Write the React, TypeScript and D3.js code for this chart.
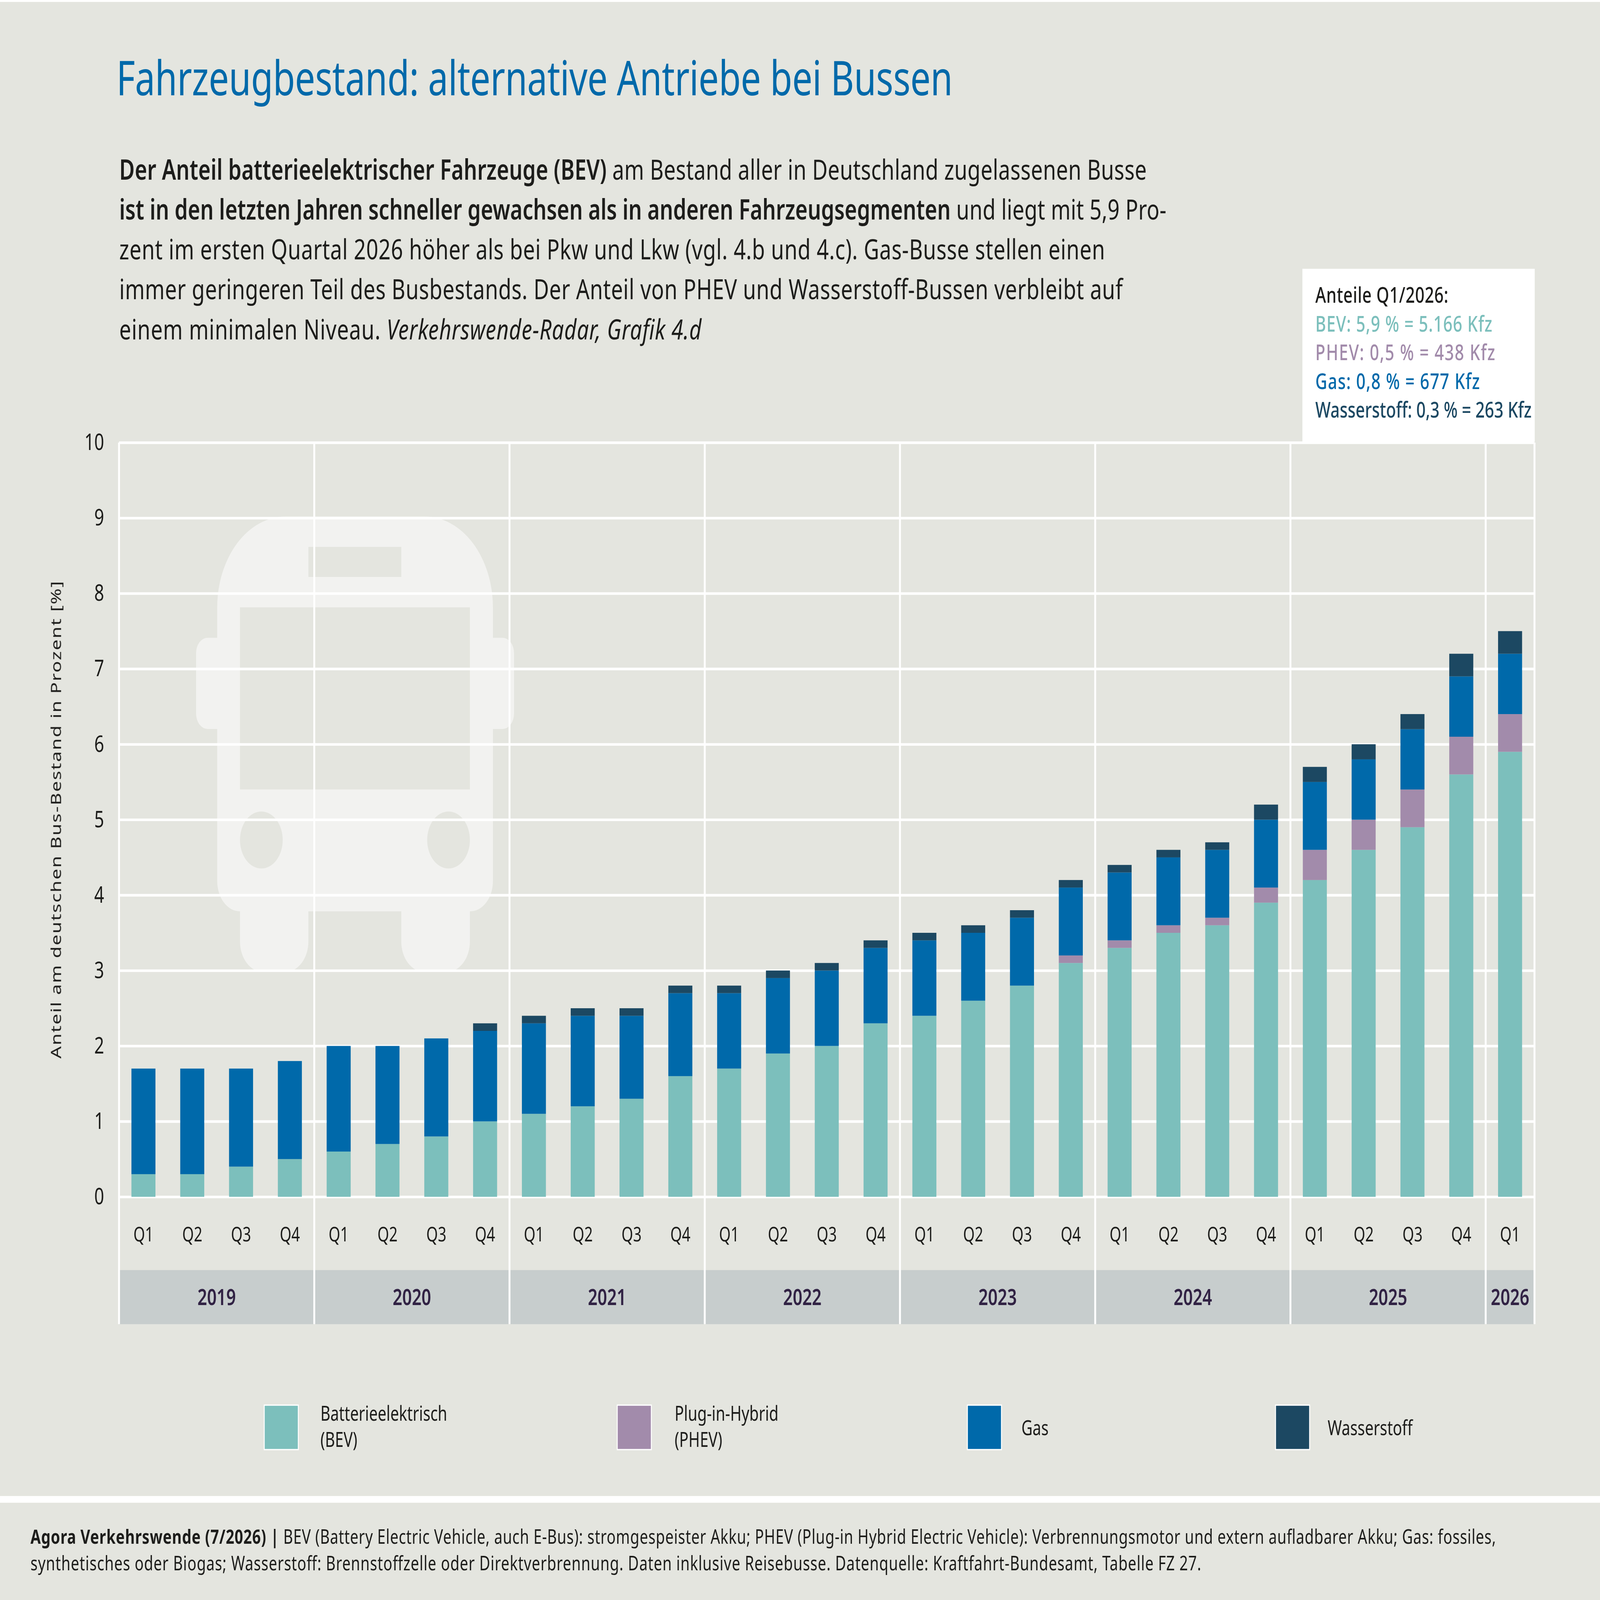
import { useEffect, useRef } from "react";
import * as d3 from "d3";

const years = ["2019", "2020", "2021", "2022", "2023", "2024", "2025", "2026"];
const quarters = [
  "2019 Q1", "2019 Q2", "2019 Q3", "2019 Q4",
  "2020 Q1", "2020 Q2", "2020 Q3", "2020 Q4",
  "2021 Q1", "2021 Q2", "2021 Q3", "2021 Q4",
  "2022 Q1", "2022 Q2", "2022 Q3", "2022 Q4",
  "2023 Q1", "2023 Q2", "2023 Q3", "2023 Q4",
  "2024 Q1", "2024 Q2", "2024 Q3", "2024 Q4",
  "2025 Q1", "2025 Q2", "2025 Q3", "2025 Q4",
  "2026 Q1",
];

const bev = [0.3, 0.3, 0.4, 0.5, 0.6, 0.7, 0.8, 1.0, 1.1, 1.2, 1.3, 1.6, 1.7, 1.9, 2.0, 2.3, 2.4, 2.6, 2.8, 3.1, 3.3, 3.5, 3.6, 3.9, 4.2, 4.6, 4.9, 5.6, 5.9];
const phev = [0, 0, 0, 0, 0, 0, 0, 0, 0, 0, 0, 0, 0, 0, 0, 0, 0, 0, 0, 0.1, 0.1, 0.1, 0.1, 0.2, 0.4, 0.4, 0.5, 0.5, 0.5];
const gas = [1.4, 1.4, 1.3, 1.3, 1.4, 1.3, 1.3, 1.2, 1.2, 1.2, 1.1, 1.1, 1.0, 1.0, 1.0, 1.0, 1.0, 0.9, 0.9, 0.9, 0.9, 0.9, 0.9, 0.9, 0.9, 0.8, 0.8, 0.8, 0.8];
const wasserstoff = [0, 0, 0, 0, 0, 0, 0, 0.1, 0.1, 0.1, 0.1, 0.1, 0.1, 0.1, 0.1, 0.1, 0.1, 0.1, 0.1, 0.1, 0.1, 0.1, 0.1, 0.2, 0.2, 0.2, 0.2, 0.3, 0.3];

const seriesKeys = ["bev", "phev", "gas", "wasserstoff"];
const seriesColors = ["#7CBFBC", "#A28BAB", "#0069AA", "#1C4862"];
const legendLabels = [["Batterieelektrisch", "(BEV)"], ["Plug-in-Hybrid", "(PHEV)"], ["Gas"], ["Wasserstoff"]];

const title = "Fahrzeugbestand: alternative Antriebe bei Bussen";
const yTitle = "Anteil am deutschen Bus-Bestand in Prozent [%]";
// each line: [text, style]
const introLines = [
  [["Der Anteil batterieelektrischer Fahrzeuge (BEV)", "b"], [" am Bestand aller in Deutschland zugelassenen Busse", ""]],
  [["ist in den letzten Jahren schneller gewachsen als in anderen Fahrzeugsegmenten", "b"], [" und liegt mit 5,9 Pro-", ""]],
  [["zent im ersten Quartal 2026 höher als bei Pkw und Lkw (vgl. 4.b und 4.c). Gas-Busse stellen einen", ""]],
  [["immer geringeren Teil des Busbestands. Der Anteil von PHEV und Wasserstoff-Bussen verbleibt auf", ""]],
  [["einem minimalen Niveau. ", ""], ["Verkehrswende-Radar, Grafik 4.d", "i"]],
];
const introEnds = [4778, 4860, 4604, 4678, 2923];
const boxLines = ["Anteile Q1/2026:", "BEV: 5,9 % = 5.166 Kfz", "PHEV: 0,5 % = 438 Kfz", "Gas: 0,8 % = 677 Kfz", "Wasserstoff: 0,3 % = 263 Kfz"];
const boxColors = ["#1D1D1B", "#7CBFBC", "#A28BAB", "#0069AA", "#1C4862"];
const boxEnds = [6035, 6218, 6230, 6166, 6382];
const footerLines = [
  [["Agora Verkehrswende (7/2026) | ", "b"], ["BEV (Battery Electric Vehicle, auch E-Bus): stromgespeister Akku; PHEV (Plug-in Hybrid Electric Vehicle): Verbrennungsmotor und extern aufladbarer Akku; Gas: fossiles,", ""]],
  [["synthetisches oder Biogas; Wasserstoff: Brennstoffzelle oder Direktverbrennung. Daten inklusive Reisebusse. Datenquelle: Kraftfahrt-Bundesamt, Tabelle FZ 27.", ""]],
];
const footerEnds = [6233, 5005];

const FONT = "'Noto Sans', sans-serif";

// faint bus behind the bars
function busPath() {
  const p = d3.path();
  const rr = (x0: number, y0: number, x1: number, y1: number, rt: number, rb: number) => {
    p.moveTo(x0 + rt, y0);
    p.lineTo(x1 - rt, y0);
    p.arcTo(x1, y0, x1, y0 + rt, rt);
    p.lineTo(x1, y1 - rb);
    p.arcTo(x1, y1, x1 - rb, y1, rb);
    p.lineTo(x0 + rb, y1);
    p.arcTo(x0, y1, x0, y1 - rb, rb);
    p.lineTo(x0, y0 + rt);
    p.arcTo(x0, y0, x0 + rt, y0, rt);
    p.closePath();
  };
  rr(905, 1614, 2054, 2848, 285, 95);
  return p.toString();
}
function holesPath() {
  const p = d3.path();
  p.rect(1285, 1709, 387, 94);
  p.rect(1000, 1898, 958, 569);
  p.moveTo(1178, 2625);
  p.arc(1089, 2625, 89, 0, Math.PI * 2);
  p.moveTo(1958, 2625);
  p.arc(1869, 2625, 89, 0, Math.PI * 2);
  return p.toString();
}

export default function App() {
  const ref = useRef<SVGSVGElement | null>(null);

  useEffect(() => {
    if (!ref.current) return;
    const svg = d3.select(ref.current);
    svg.selectAll("*").remove();

    const width = 6667;
    const height = 5000;
    const plot = { left: 496, right: 6394, top: 1383, bottom: 3740, bandTop: 3969, bandBottom: 4138 };

    svg.attr("viewBox", `0 0 ${width} ${height}`).attr("font-family", FONT);
    svg.append("rect").attr("width", width).attr("height", height).attr("fill", "#E4E5DF");
    svg.append("rect").attr("width", width).attr("height", 6).attr("fill", "#fff");

    // Scales
    const x = d3.scaleBand<string>().domain(quarters).range([plot.left, plot.right]).paddingInner(0.508).paddingOuter(0.254);
    const y = d3.scaleLinear().domain([0, 10]).range([plot.bottom, plot.top]);

    // Title and intro
    svg.append("text").attr("x", 485).attr("y", 298).attr("font-size", 150).attr("fill", "#0069AA")
      .attr("textLength", 3485).attr("lengthAdjust", "spacing").text(title);

    introLines.forEach((line, i) => {
      const t = svg.append("text").attr("x", 497).attr("y", 561 + i * 124.8).attr("font-size", 88).attr("fill", "#1D1D1B")
        .attr("textLength", introEnds[i] - 497).attr("lengthAdjust", "spacing");
      line.forEach(([s, style]) => {
        t.append("tspan")
          .attr("font-weight", style === "b" ? 600 : 400)
          .attr("font-style", style === "i" ? "italic" : "normal")
          .attr("letter-spacing", style === "b" ? -0.5 : 0)
          .text(s);
      });
    });

    // Bus icon
    const bus = svg.append("g").attr("fill", "#F2F2F0");
    bus.append("rect").attr("x", 817).attr("y", 1993).attr("width", 1325).attr("height", 285).attr("rx", 48);
    bus.append("rect").attr("x", 1000).attr("y", 2700).attr("width", 285).attr("height", 337).attr("rx", 95);
    bus.append("rect").attr("x", 1672).attr("y", 2700).attr("width", 286).attr("height", 337).attr("rx", 95);
    bus.append("path").attr("d", busPath());
    svg.append("path").attr("d", holesPath()).attr("fill", "#E4E5DF");

    // Year band under the axis
    svg.append("rect").attr("x", plot.left).attr("y", plot.bandTop).attr("width", plot.right - plot.left).attr("height", plot.bandBottom - plot.bandTop).attr("fill", "#C7CDCD");

    // Y axis + horizontal grid
    svg.append("g")
      .attr("transform", `translate(${plot.left},0)`)
      .call(d3.axisLeft(y).tickValues(d3.range(0, 11)).tickSize(-(plot.right - plot.left)).tickPadding(62))
      .call((g) => g.select(".domain").remove())
      .call((g) => g.selectAll("line").attr("stroke", "#fff").attr("stroke-width", 8))
      .call((g) => g.selectAll("text").attr("font-size", 72).attr("font-family", FONT).attr("fill", "#1D1D1B"));

    // Vertical separators: start of every year, plus the right edge
    const yearStarts = years.map((yr) => x(`${yr} Q1`)! - (x.step() * 0.508) / 2);
    [...yearStarts, plot.right].forEach((sx) => {
      svg.append("line").attr("x1", sx).attr("x2", sx).attr("y1", plot.top).attr("y2", plot.bandBottom).attr("stroke", "#fff").attr("stroke-width", 8);
    });

    // Info box, over the top grid line
    svg.append("rect").attr("x", 5427).attr("y", 840).attr("width", 968).attr("height", 540).attr("fill", "#fff");
    boxLines.forEach((s, i) => {
      svg.append("text").attr("x", 5481).attr("y", 946 + i * 89.8).attr("font-size", 68).attr("font-weight", 500).attr("fill", boxColors[i])
        .attr("textLength", boxEnds[i] - 5481).attr("lengthAdjust", "spacing").text(s);
    });

    // Stacked bars
    const rows = quarters.map((q, i) => ({ q, bev: bev[i], phev: phev[i], gas: gas[i], wasserstoff: wasserstoff[i] }));
    const stacked = d3.stack<any>().keys(seriesKeys)(rows);
    svg.append("g").selectAll("g").data(stacked).join("g")
      .attr("fill", (_, i) => seriesColors[i])
      .selectAll("rect").data((d) => d).join("rect")
      .attr("x", (d) => x(d.data.q)!)
      .attr("y", (d) => y(d[1]))
      .attr("width", x.bandwidth())
      .attr("height", (d) => y(d[0]) - y(d[1]));

    // Quarter labels
    svg.append("g")
      .attr("transform", `translate(0,${plot.bottom})`)
      .call(d3.axisBottom(x).tickSize(0).tickFormat((d) => d.split(" ")[1]))
      .call((g) => g.select(".domain").remove())
      .call((g) => g.selectAll("text").attr("y", 140).attr("dy", 0).attr("font-size", 62).attr("font-family", FONT).attr("fill", "#1D1D1B"));

    // Year labels
    years.forEach((yr, i) => {
      const a = yearStarts[i];
      const b = i < years.length - 1 ? yearStarts[i + 1] : plot.right;
      svg.append("text").attr("x", (a + b) / 2).attr("y", 4078).attr("text-anchor", "middle").attr("font-size", 70).attr("font-weight", 600).attr("fill", "#312244").text(yr);
    });

    // Y title
    svg.append("text").attr("transform", "translate(255,2562) rotate(-90)").attr("text-anchor", "middle").attr("font-size", 60).attr("fill", "#1D1D1B").attr("textLength", 1492).attr("lengthAdjust", "spacing").text(yTitle);

    // Legend
    const legendX = [1101, 2572, 4031, 5315];
    const legendTextX = [1335, 2811, 4256, 5532];
    legendLabels.forEach((lines, i) => {
      svg.append("rect").attr("x", legendX[i]).attr("y", 4391).attr("width", 142).attr("height", 139).attr("fill", seriesColors[i]).attr("stroke", "#fff").attr("stroke-width", 4);
      lines.forEach((s, j) => {
        const base = lines.length === 1 ? 4485 : 4440 + j * 81;
        svg.append("text").attr("x", legendTextX[i]).attr("y", base).attr("font-size", 64).attr("fill", "#1D1D1B").text(s);
      });
    });

    // Footer
    svg.append("rect").attr("x", 0).attr("y", 4675).attr("width", width).attr("height", 21).attr("fill", "#fff");
    footerLines.forEach((line, i) => {
      const t = svg.append("text").attr("x", 127).attr("y", 4824 + i * 83).attr("font-size", 62).attr("fill", "#1D1D1B")
        .attr("textLength", footerEnds[i] - 127).attr("lengthAdjust", "spacing");
      line.forEach(([s, style]) => {
        t.append("tspan").attr("font-weight", style === "b" ? 700 : 400).text(s);
      });
    });
  }, []);

  // the viewBox carries the 6667x5000 layout; the svg takes whatever window it is given
  return <svg ref={ref} preserveAspectRatio="none" style={{ position: "fixed", left: 0, top: 0, width: "100vw", height: "100vh", display: "block" }} />;
}
